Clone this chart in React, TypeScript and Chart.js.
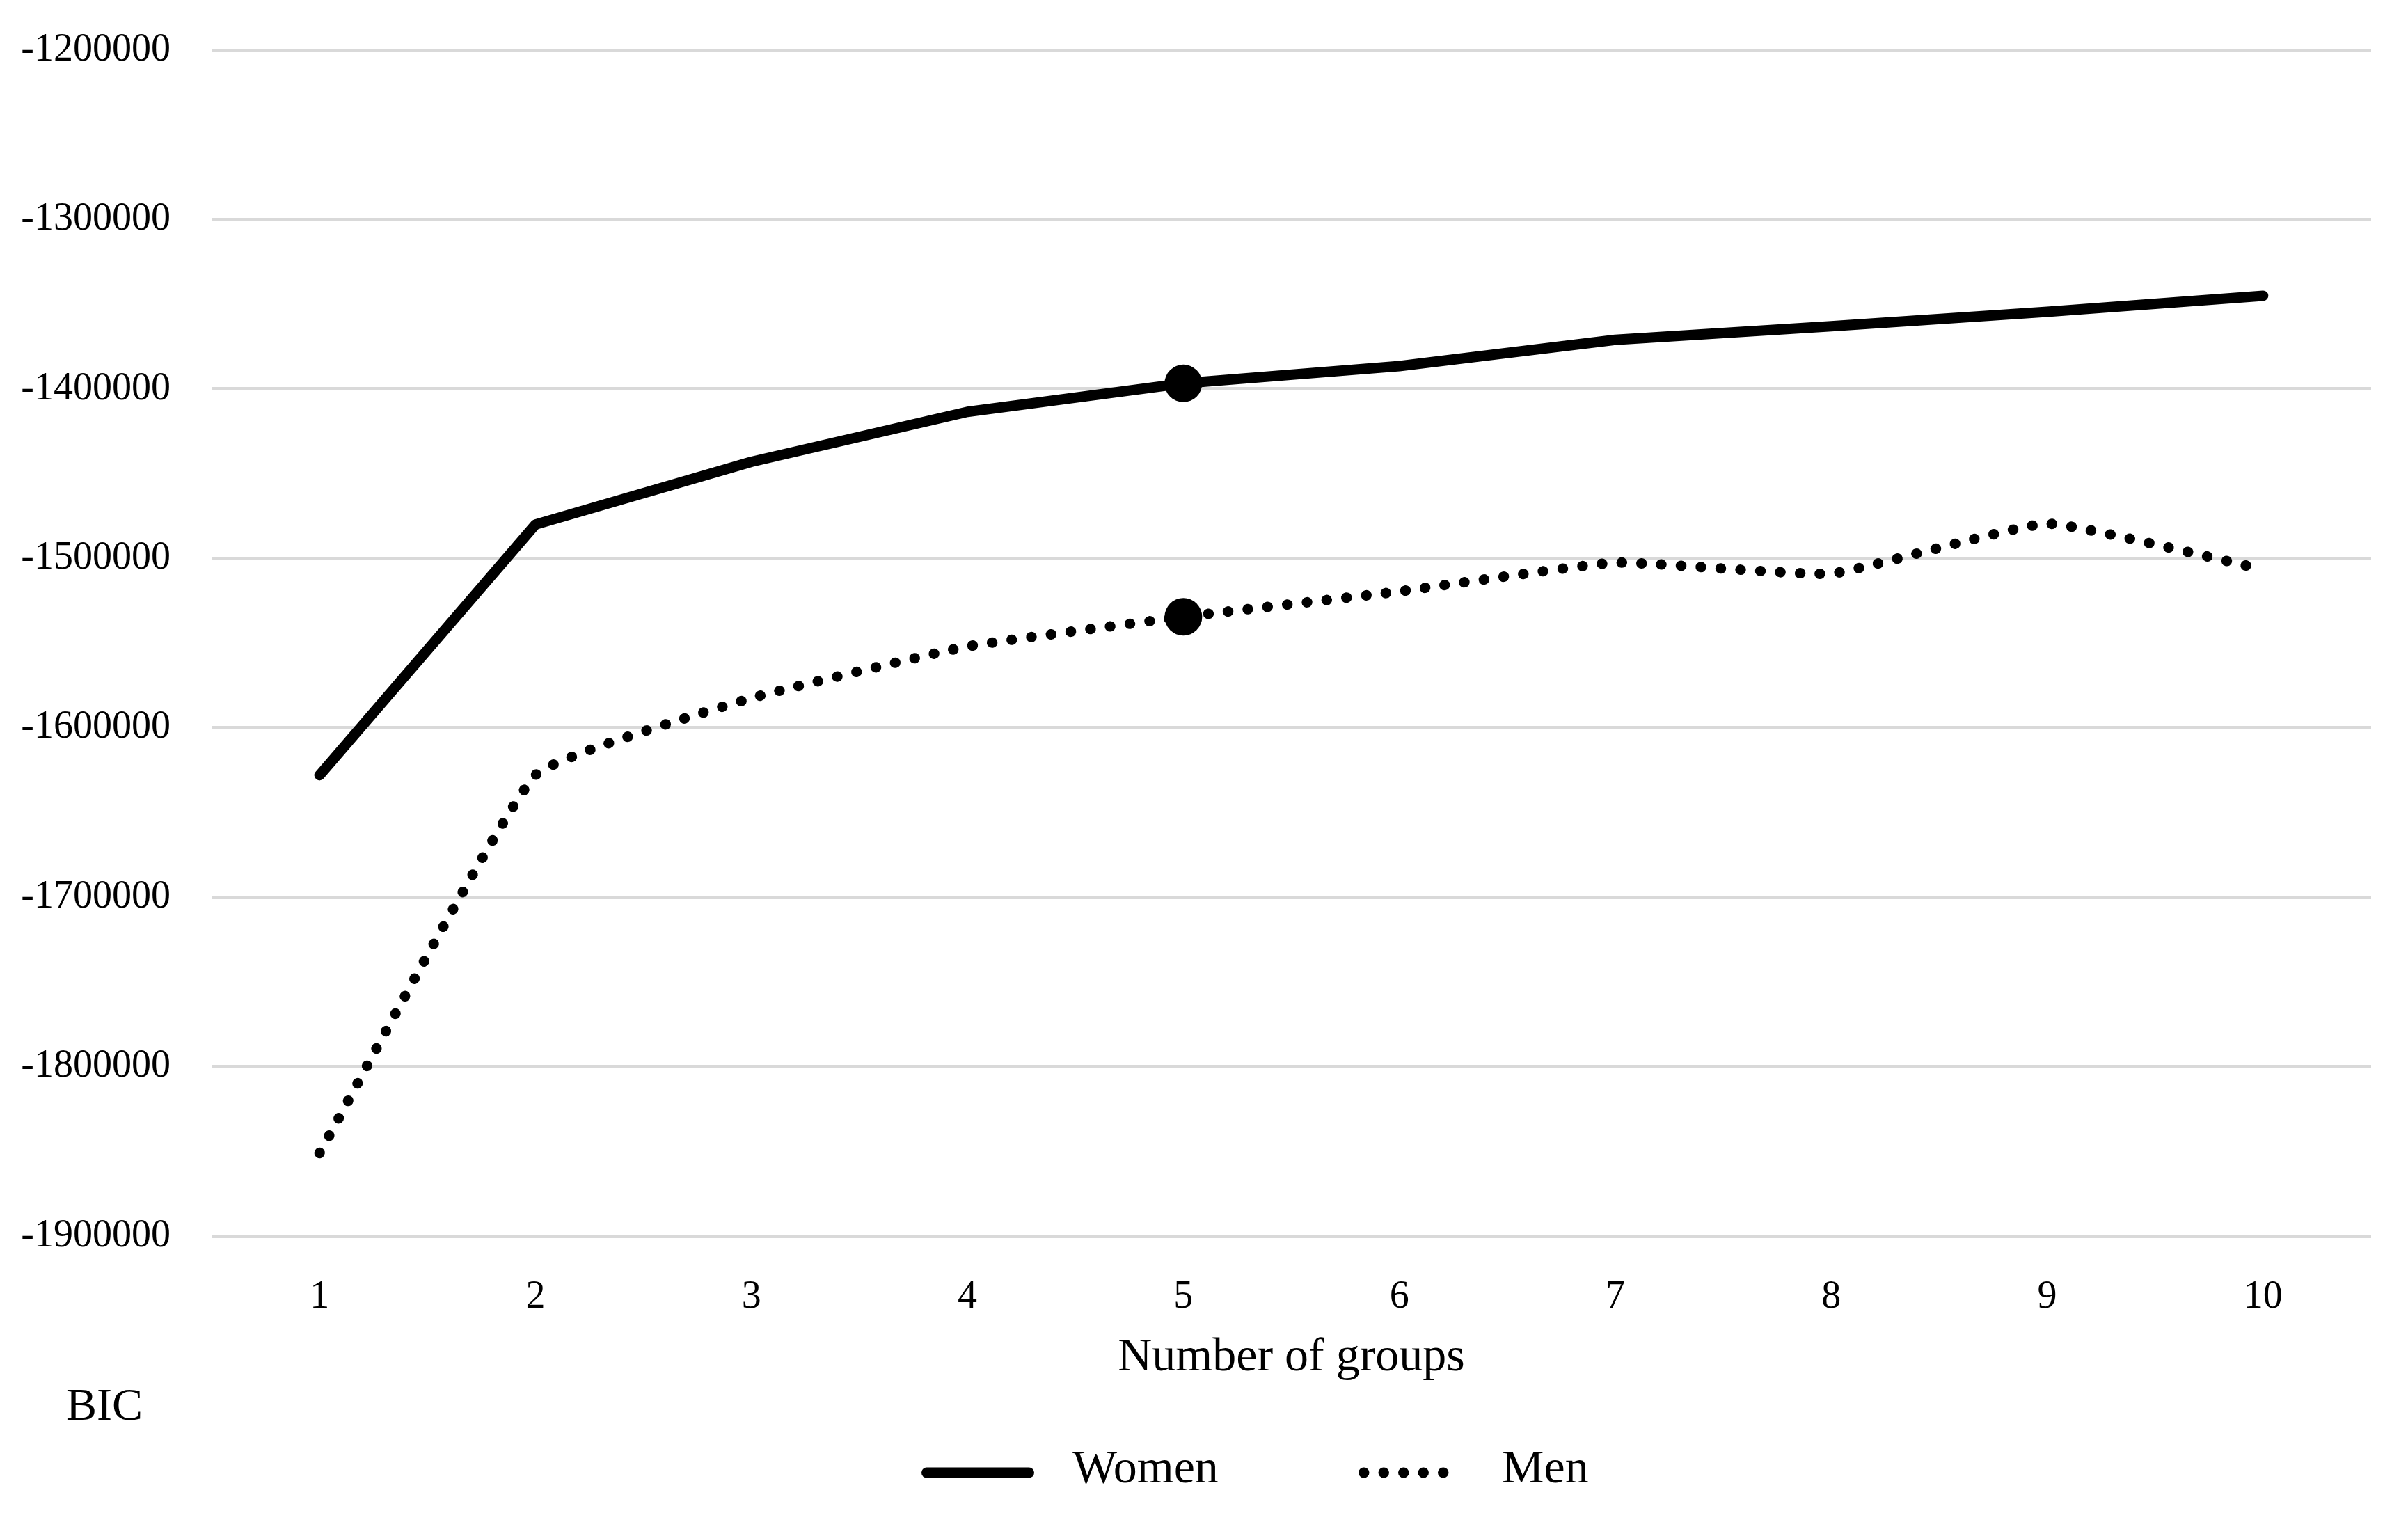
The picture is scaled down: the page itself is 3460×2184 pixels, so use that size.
import { useEffect, useRef } from "react";
import { Chart, registerables } from "chart.js";

Chart.register(...registerables);

const groups = ["1", "2", "3", "4", "5", "6", "7", "8", "9", "10"];
const women = [-1628000, -1480000, -1443000, -1413500, -1396700, -1386500, -1371000, -1363000, -1354500, -1345000];
const men = [-1851000, -1628000, -1582500, -1552000, -1534500, -1519500, -1502500, -1509000, -1479500, -1506500];
const highlighted = 4; // the 5-group solution is marked on both lines

const yMin = -1900000;
const yMax = -1200000;
const yStep = 100000;

const xTitle = "Number of groups";
const yTitle = "BIC";

const FONT = "'Liberation Serif', 'Times New Roman', serif";
const TICK_SIZE = 56;
const LABEL_SIZE = 68;

// legend and the stray "BIC" label sit under the axis, drawn by hand
const legendAndLabel = {
  id: "legendAndLabel",
  afterDraw(chart: Chart) {
    const { ctx } = chart;
    ctx.save();
    ctx.fillStyle = "#000";
    ctx.textBaseline = "middle";
    ctx.textAlign = "left";
    ctx.font = `66px ${FONT}`;
    ctx.fillText(yTitle, 95, 2023);

    ctx.font = `${LABEL_SIZE}px ${FONT}`;
    const y = 2112;
    const samples = [
      { x: 1324, w: 162, tx: 1541 },
      { x: 1952, w: 151, tx: 2158 },
    ];
    chart.data.datasets.forEach((ds: any, i) => {
      const s = samples[i];
      const half = ds.borderWidth / 2;
      ctx.beginPath();
      ctx.lineWidth = ds.borderWidth;
      ctx.strokeStyle = ds.borderColor;
      ctx.lineCap = "round";
      ctx.setLineDash(ds.borderDash || []);
      ctx.moveTo(s.x + half, y + 4);
      ctx.lineTo(s.x + s.w - half, y + 4);
      ctx.stroke();
      ctx.setLineDash([]);
      ctx.fillText(ds.label, s.tx, y);
    });
    ctx.restore();
  },
};

export default function App() {
  const canvasRef = useRef<HTMLCanvasElement>(null);

  useEffect(() => {
    document.body.style.margin = "0";
    if (!canvasRef.current) return;
    const markerRadius = (i: number) => (i === highlighted ? 27 : 0);
    const chart = new Chart(canvasRef.current, {
      type: "line",
      data: {
        labels: groups,
        datasets: [
          {
            label: "Women",
            data: women,
            borderColor: "#000",
            borderWidth: 15,
            borderCapStyle: "round",
            borderJoinStyle: "round",
            tension: 0,
            pointRadius: groups.map((_, i) => markerRadius(i)),
            pointBackgroundColor: "#000",
            pointBorderWidth: 0,
          },
          {
            label: "Men",
            data: men,
            borderColor: "#000",
            borderWidth: 15,
            borderDash: [0.5, 28],
            borderCapStyle: "round",
            borderJoinStyle: "round",
            tension: 0.12,
            pointRadius: groups.map((_, i) => markerRadius(i)),
            pointBackgroundColor: "#000",
            pointBorderWidth: 0,
          },
        ],
      },
      options: {
        animation: false,
        responsive: true,
        maintainAspectRatio: false,
        layout: {
          padding: { top: 72, left: 0, right: 53, bottom: 183 },
        },
        plugins: {
          legend: { display: false },
          tooltip: { enabled: false },
        },
        scales: {
          x: {
            offset: true,
            afterFit(scale) {
              scale.height = 225;
            },
            grid: { display: false },
            border: { display: false },
            ticks: {
              color: "#000",
              padding: 47,
              font: { family: FONT, size: TICK_SIZE },
            },
            title: {
              display: true,
              text: xTitle,
              color: "#000",
              padding: { top: 0, bottom: 9 },
              font: { family: FONT, size: LABEL_SIZE },
            },
          },
          y: {
            min: yMin,
            max: yMax,
            afterFit(scale) {
              scale.width = 304;
            },
            grid: {
              color: "#d9d9d9",
              lineWidth: 5,
              drawTicks: true,
              tickLength: 59,
              tickColor: "rgba(0,0,0,0)",
            },
            border: { display: false },
            ticks: {
              stepSize: yStep,
              color: "#000",
              padding: 0,
              font: { family: FONT, size: TICK_SIZE },
              callback: (v) => String(v),
            },
          },
        },
      },
      plugins: [legendAndLabel],
    });
    return () => chart.destroy();
  }, []);

  return (
    <div style={{ width: 3460, height: 2184, background: "#fff", overflow: "hidden" }}>
      <canvas ref={canvasRef} />
    </div>
  );
}
